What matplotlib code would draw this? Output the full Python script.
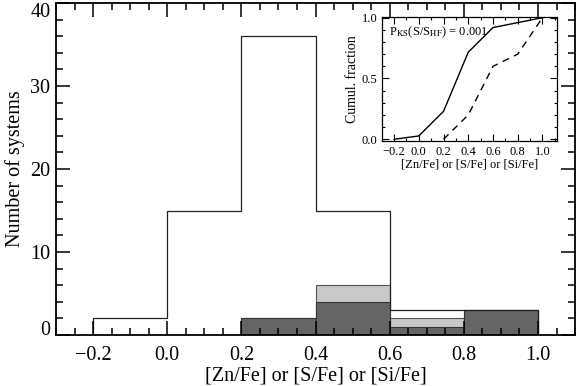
import numpy as np
import matplotlib
matplotlib.use("Agg")
import matplotlib.pyplot as plt
from matplotlib.ticker import MultipleLocator

plt.rcParams['font.family'] = ['Liberation Serif', 'DejaVu Serif']
plt.rcParams['mathtext.fontset'] = 'stix'

# histogram bins and counts
edges = [-0.2, 0.0, 0.2, 0.4, 0.6, 0.8, 1.0]
all_counts = [2, 15, 36, 15, 3, 3]
dark_counts = [0, 0, 2, 4, 1, 3]
light_counts = [0, 0, 0, 2, 1, 0]

dark_col = '#656565'
light_col = '#c9c9c9'

fig = plt.figure(figsize=(5.78, 3.86), dpi=100)
ax = fig.add_axes([0.0969, 0.1321, 0.898, 0.860])

left = np.array(edges[:-1])
width = np.diff(edges)
dark = np.array(dark_counts)
light = np.array(light_counts)

ax.bar(left, dark + light, width=width, align='edge', color=light_col,
       edgecolor='#555555', linewidth=0.8)
ax.bar(left, dark, width=width, align='edge', color=dark_col,
       edgecolor='#333333', linewidth=0.8)
ax.stairs(all_counts, edges, color='#222222', linewidth=0.9, baseline=0)

ax.set_xlim(-0.3, 1.1)
ax.set_ylim(0, 40)
ax.set_xticks([-0.2, 0.0, 0.2, 0.4, 0.6, 0.8, 1.0])
ax.set_xticklabels(['\u22120.2', '0.0', '0.2', '0.4', '0.6', '0.8', '1.0'])
ax.xaxis.set_minor_locator(MultipleLocator(0.05))
ax.set_yticks([0, 10, 20, 30, 40])
ax.yaxis.set_minor_locator(MultipleLocator(2))
ax.tick_params(which='both', direction='in', top=True, right=True,
               labelsize=14.5, width=1.1)
ax.tick_params(which='major', length=10)
ax.tick_params(which='minor', length=5)
ax.tick_params(axis='x', pad=8)
ax.tick_params(axis='y', pad=4)
for s in ax.spines.values():
    s.set_linewidth(1.3)
yt = ax.yaxis.get_major_ticks()
yt[0].label1.set_verticalalignment('baseline')
yt[-1].label1.set_verticalalignment('top')
ax.set_xlabel('[Zn/Fe] or [S/Fe] or [Si/Fe]', fontsize=14.5, labelpad=1)
ax.set_ylabel('Number of systems', fontsize=14.5, labelpad=4)

# inset: cumulative fractions
cum_all = np.concatenate([[0], np.cumsum(all_counts)]) / np.sum(all_counts)
cum_dark = np.concatenate([[0], np.cumsum(dark_counts)]) / np.sum(dark_counts)

ins = fig.add_axes([0.6604, 0.6355, 0.3038, 0.3212])
ins.plot(edges, cum_all, color='black', linewidth=1.0)
ins.plot(edges[2:], cum_dark[2:], color='black', linewidth=1.0,
         linestyle=(0, (5, 4)))
ins.set_xlim(-0.3, 1.12)
ins.set_ylim(-0.012, 1.008)
ins.xaxis.set_major_locator(MultipleLocator(0.2))
ins.xaxis.set_minor_locator(MultipleLocator(0.1))
ins.yaxis.set_major_locator(MultipleLocator(0.5))
ins.yaxis.set_minor_locator(MultipleLocator(0.1))
ins.tick_params(which='both', direction='in', top=True, right=True,
                labelsize=9, width=0.8)
ins.tick_params(which='major', length=5)
ins.tick_params(which='minor', length=2.5)
ins.tick_params(axis='x', pad=4)
ins.tick_params(axis='y', pad=3)
for s in ins.spines.values():
    s.set_linewidth(0.9)
ins.set_xlabel('[Zn/Fe] or [S/Fe] or [Si/Fe]', fontsize=9, labelpad=0)
ins.set_ylabel('Cumul. fraction', fontsize=10, labelpad=2)
ins.text(0.04, 0.94, r'P$_{\rm KS}$(S/S$_{\rm HF}$) = 0.001', fontsize=9,
         transform=ins.transAxes, va='top', ha='left')

fig.savefig('out.png', dpi=100)
